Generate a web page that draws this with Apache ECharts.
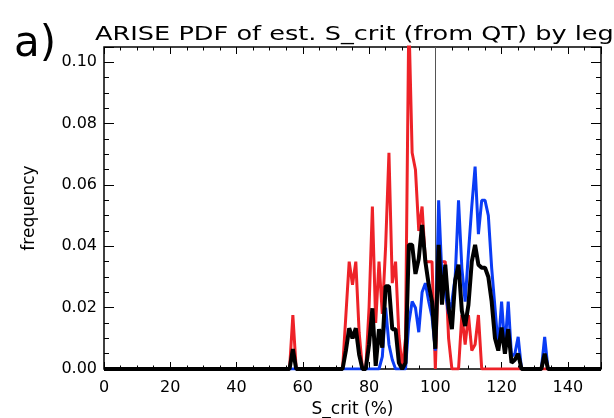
<!DOCTYPE html>
<html>
<head>
<meta charset="utf-8">
<script src="https://cdn.jsdelivr.net/npm/echarts@6/dist/echarts.min.js"></script>
<style>
html,body{margin:0;padding:0;background:#fff;}
#c{width:614px;height:418px;}
</style>
</head>
<body>
<div id="c"></div>
<script>
// S_crit (%) bin positions
const xs = [0,
  55,56,57,58,59,60,61,62,63,64,65,66,67,68,69,70,71,72,73,74,
  75,76,77,78,79,80,81,82,83,84,85,86,87,88,89,90,91,92,93,94,
  95,96,97,98,99,100,101,102,103,104,105,106,107,108,109,110,111,112,113,114,
  115,116,117,118,119,120,121,122,123,124,125,126,127,128,129,130,131,132,133,134,135,
  150];

// red leg
const redVals = [0,
  0,0,0.0176,0,0,0,0,0,0,0,0,0,0,0,0,0,0,0,0.0175,0.035,
  0.0275,0.035,0.012,0,0,0.02,0.053,0.015,0.035,0.018,0.04,0.0705,0.028,0.035,0.011,0,0.01,0.115,0.0705,0.065,
  0.045,0.053,0.035,0.035,0.035,0,0.035,0.035,0.035,0.01,0,0,0,0.0176,0.008,0.0176,0.006,0.008,0.0176,0,
  0,0,0,0,0,0,0,0,0,0,0,0,0,0,0,0,0,0,0,0,0,
  0];

// blue leg
const blueVals = [0,
  0,0,0,0,0,0,0,0,0,0,0,0,0,0,0,0,0,0,0,0,
  0,0,0,0,0,0,0,0,0,0.004,0.02,0.008,0.003,0,0,0,0,0.015,0.022,0.02,
  0.012,0.025,0.028,0.022,0.017,0.006,0.055,0.03,0.025,0.018,0.022,0.03,0.055,0.033,0.022,0.038,0.053,0.066,0.044,0.055,
  0.055,0.05,0.033,0.02,0.007,0.022,0.007,0.022,0.004,0.005,0.0105,0,0,0,0,0,0,0,0.0105,0,0,
  0];

// all legs (black)
const blackVals = [0,
  0,0,0.0065,0,0,0,0,0,0,0,0,0,0,0,0,0,0,0,0.006,0.0133,
  0.010,0.0133,0.0047,0,0,0.008,0.0198,0.001,0.013,0.007,0.027,0.027,0.013,0.013,0.002,0,0.002,0.0405,0.0405,0.031,
  0.036,0.047,0.035,0.0275,0.022,0.0066,0.0405,0.021,0.034,0.02,0.013,0.029,0.034,0.019,0.014,0.021,0.035,0.0405,0.034,0.033,
  0.033,0.03,0.022,0.01,0.006,0.0135,0.005,0.013,0.002,0.003,0.005,0,0,0,0,0,0,0,0.005,0,0,
  0];

const xTickLabels = [0,20,40,60,80,100,120,140];
const yTickLabels = ['0.00','0.02','0.04','0.06','0.08','0.10'];

const FONT = 'DejaVu Sans';
const pair = vals => xs.map((x,i)=>[x, vals[i]]);

const gridRect = {left:104, right:13, top:47, bottom:49, containLabel:false, outerBoundsMode:'none'};
const tickStyle = {color:'#000', width:1};

function xAx(grid, pos, interval, len, labels){
  return {
    type:'value', gridIndex:grid, position:pos, min:0, max:150, interval:interval,
    axisLine:{show:false, onZero:false},
    axisTick:{show:true, inside:true, length:len, lineStyle:tickStyle},
    splitLine:{show:false},
    axisLabel: labels ? {
      show:true, margin:11, color:'#000', fontFamily:FONT, fontSize:16,
      formatter: v => xTickLabels.indexOf(Math.round(v)) >= 0 && Math.abs(v-Math.round(v))<1e-6 ? String(Math.round(v)) : ''
    } : {show:false}
  };
}
function yAx(grid, pos, interval, len, labels){
  return {
    type:'value', gridIndex:grid, position:pos, min:0, max:0.105, interval:interval,
    axisLine:{show:false, onZero:false},
    axisTick:{show:true, inside:true, length:len, lineStyle:tickStyle},
    splitLine:{show:false},
    axisLabel: labels ? {
      show:true, margin:7, color:'#000', fontFamily:FONT, fontSize:16,
      formatter: v => { const s = v.toFixed(2); return (yTickLabels.indexOf(s) >= 0 && Math.abs(v - parseFloat(s))<1e-6) ? s : ''; }
    } : {show:false}
  };
}

const chart = echarts.init(document.getElementById('c'), null, {renderer:'canvas'});
chart.setOption({
  animation:false,
  backgroundColor:'#fff',
  graphic:[
    {type:'text', left:95, top:25, scaleX:1.28,
     style:{text:'ARISE PDF of est. S_crit (from QT) by leg', fontFamily:FONT, fontSize:20, fill:'#000'}},
    {type:'text', left:14, top:24, style:{text:'a)', fontFamily:FONT, fontSize:42, fill:'#000'}}
  ],
  grid:[
    Object.assign({show:true, borderColor:'#000', borderWidth:1.5, backgroundColor:'transparent'}, gridRect),
    Object.assign({show:false}, gridRect)
  ],
  xAxis:[
    Object.assign(xAx(0,'bottom',20,7,true), {name:'S_crit (%)', nameLocation:'middle', nameGap:27,
      nameTextStyle:{fontFamily:FONT, fontSize:17, color:'#000'}}),
    xAx(0,'top',20,7,false),
    xAx(1,'bottom',5,3.5,false),
    xAx(1,'top',5,3.5,false)
  ],
  yAxis:[
    Object.assign(yAx(0,'left',0.02,10,true), {name:'frequency', nameLocation:'middle', nameRotate:90, nameGap:66,
      nameTextStyle:{fontFamily:FONT, fontSize:17, color:'#000'}}),
    yAx(0,'right',0.02,10,false),
    yAx(1,'left',0.005,5,false),
    yAx(1,'right',0.005,5,false)
  ],
  series:[
    {type:'line', name:'red', xAxisIndex:0, yAxisIndex:0, data:pair(redVals), showSymbol:false, symbol:'none',
     lineStyle:{color:'#ee2228', width:3}, z:2,
     markLine:{silent:true, symbol:['none','none'], label:{show:false},
       lineStyle:{color:'#555', width:1, type:'solid'}, data:[{xAxis:100}], z:1}},
    {type:'line', name:'blue', xAxisIndex:0, yAxisIndex:0, data:pair(blueVals), showSymbol:false, symbol:'none',
     lineStyle:{color:'#0a3cf5', width:3}, z:3},
    {type:'line', name:'all', xAxisIndex:0, yAxisIndex:0, data:pair(blackVals), showSymbol:false, symbol:'none',
     lineStyle:{color:'#000', width:4}, z:4}
  ]
});
</script>
</body>
</html>
